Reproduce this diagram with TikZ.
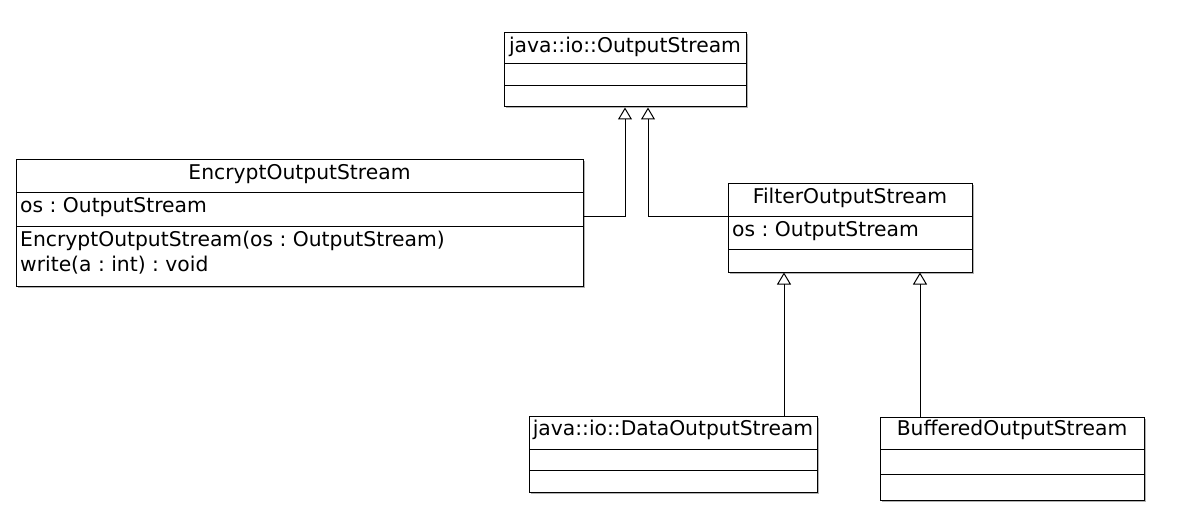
\documentclass[tikz,border=0pt]{standalone}
\usepackage{fontspec}
\setmainfont{DejaVu Sans}
\usetikzlibrary{arrows.meta}
\frenchspacing
\begin{document}
\begin{tikzpicture}[x=1pt,y=-1pt,
  font=\fontsize{20.3}{24}\selectfont,
  box/.style={draw, line width=1pt, fill=white, inner sep=0pt,
    preaction={fill=black!30, transform canvas={shift={(1.5pt,-1.5pt)}}}},
  sep/.style={line width=1pt},
  txt/.style={inner sep=0pt, anchor=west},
  inh/.style={line width=1pt, -{Triangle[open, length=12pt, width=14pt, line width=1pt]}}
]
\useasboundingbox (0,0) rectangle (1192,532);

% java::io::OutputStream
\node[box, minimum width=242pt, minimum height=74pt] (os) at (625,70) {};
\draw[sep] (504,64) -- (746,64);
\draw[sep] (504,86) -- (746,86);
\node[inner sep=0pt] (ost) at (625,47) {java::io::OutputStream};

% EncryptOutputStream
\node[box, minimum width=567pt, minimum height=126pt] (enc) at (299.5,223) {};
\draw[sep] (16,193) -- (583,193);
\draw[sep] (16,226) -- (583,226);
\node[inner sep=0pt] (enct) at (299.5,174) {EncryptOutputStream};
\node[txt] (enca) at (20,207) {os : OutputStream};
\node[txt] (encm1) at (20,241) {EncryptOutputStream(os : OutputStream)};
\node[txt] (encm2) at (20,265) {write(a : int) : void};

% FilterOutputStream
\node[box, minimum width=244pt, minimum height=88pt] (filt) at (850,228) {};
\draw[sep] (728,216) -- (972,216);
\draw[sep] (728,249) -- (972,249);
\node[inner sep=0pt] (filtt) at (850,198) {FilterOutputStream};
\node[txt] (filta) at (732,231) {os : OutputStream};

% java::io::DataOutputStream
\node[box, minimum width=288pt, minimum height=76pt] (data) at (673,454) {};
\draw[sep] (529,449) -- (817,449);
\draw[sep] (529,470) -- (817,470);
\node[inner sep=0pt] (datat) at (673,430) {java::io::DataOutputStream};

% BufferedOutputStream
\node[box, minimum width=264pt, minimum height=83pt] (buf) at (1012,458.5) {};
\draw[sep] (880,449) -- (1144,449);
\draw[sep] (880,474) -- (1144,474);
\node[inner sep=0pt] (buft) at (1012,430) {BufferedOutputStream};

% connectors
\coordinate (j1) at (625,216);
\coordinate (j2) at (648,216);
\coordinate (j3) at (784,0);
\coordinate (j4) at (920,0);
\draw[inh] (enc.east |- j1) -| (os.south -| j1);
\draw[inh] (filt.west |- j2) -| (os.south -| j2);
\draw[inh] (data.north -| j3) -- (filt.south -| j3);
\draw[inh] (buf.north -| j4) -- (filt.south -| j4);
\end{tikzpicture}
\end{document}
